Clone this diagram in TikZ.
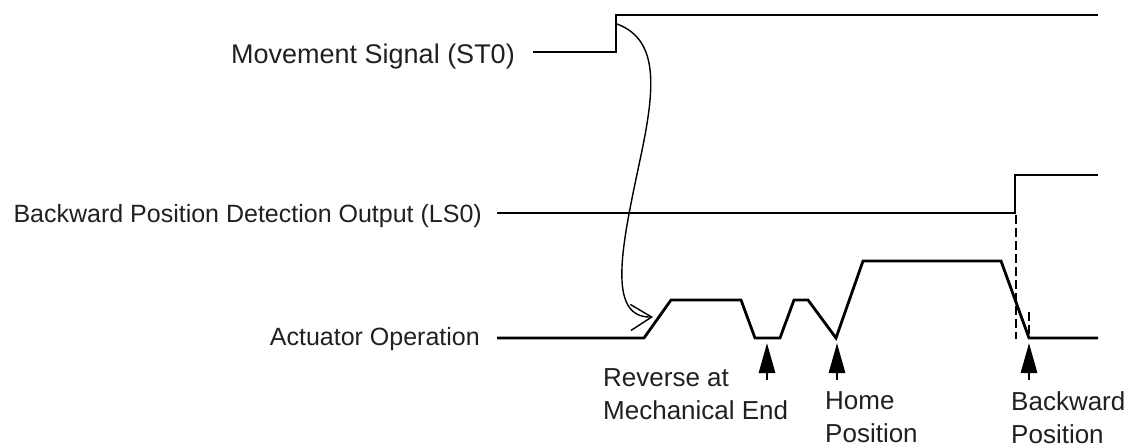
\documentclass[tikz,border=0pt]{standalone}
\usepackage{fontspec}
\setmainfont{Liberation Sans}
\usetikzlibrary{arrows.meta}
\definecolor{txtgray}{HTML}{231F20}
\tikzset{
  signame/.style={font=\fontsize{#1}{33}\selectfont, text=txtgray, inner sep=0pt},
  signame/.default=25,
  marktext/.style={font=\fontsize{26}{33}\selectfont, text=txtgray, inner sep=0pt,
                   align=left, anchor=north west},
  wave/.style={line width=2.8pt, line join=miter},
  pointer/.style={-{Triangle[length=30pt, width=16pt]}, line width=2.8pt},
  cause/.style={-{Straight Barb[length=21pt, width=26pt]}, line width=1.4pt},
  guide/.style={line width=1.1pt, dash pattern=on 9pt off 4pt},
}

\begin{document}
\begin{tikzpicture}[x=1pt, y=-1pt]
  \useasboundingbox (0,0) rectangle (1135,447);
  % signal names
  \node[signame=27, anchor=base east] (st0) at (515,63) {Movement Signal (ST0)};
  \node[signame, anchor=base east] (ls0) at (482,222) {Backward Position Detection Output (LS0)};
  \node[signame, anchor=base east] (act) at (480,345) {Actuator Operation};
  % waveforms
  \draw[wave] (533,52) -- (616,52) -- (616,15) -- (1098,15);
  \draw[wave] (497,213) -- (1015,213) -- (1015,175) -- (1098,175);
  \draw[wave] (497,338) -- (644,338) -- (671,300) -- (741,300) -- (755,338) -- (780,338)
    -- (794,300) -- (808,300) -- (836,338) -- (863,261) -- (1001,261) -- (1029,338) -- (1098,338);
  % timing guides
  \draw[guide] (1016,215) -- (1016,339);
  \draw[guide] (1029,312) -- (1029,339);
  % start of motion
  \coordinate (go) at (617,24);
  \coordinate (move) at (653,317);
  \draw[cause] (go) .. controls (660,40) and (655,90) .. (640,160)
    .. controls (622,245) and (606,318) .. (move);
  % event markers
  \foreach \nm/\xx in {rev/767, home/837, back/1029}{
    \coordinate (\nm tip) at (\xx,343);
    \coordinate (\nm tail) at (\xx,380);
    \draw[pointer] (\nm tail) -- (\nm tip);
  }
  \node[marktext] (revtxt) at (603,368) {Reverse at\\Mechanical End};
  \node[marktext] (hometxt) at (825,391) {Home\\Position};
  \node[marktext] (backtxt) at (1011,391) {Backward\\Position};
\end{tikzpicture}
\end{document}
